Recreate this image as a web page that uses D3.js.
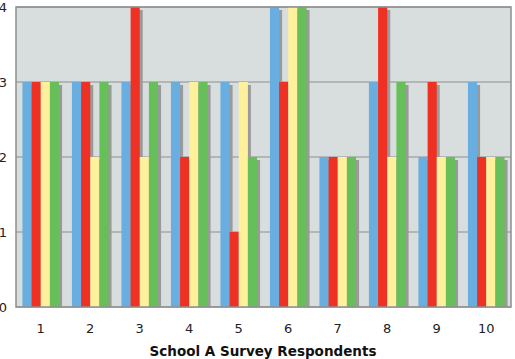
<!DOCTYPE html>
<html><head><meta charset="utf-8">
<script src="https://cdn.jsdelivr.net/npm/d3@7"></script>
<style>body{margin:0;background:#fff}svg{display:block}</style>
</head><body>
<script>
const categories = ["1","2","3","4","5","6","7","8","9","10"];
const seriesNames = ["Q1","Q2","Q3","Q4"];
const q1 = [3,3,3,3,3,4,2,3,2,3];
const q2 = [3,3,4,2,1,3,2,4,3,2];
const q3 = [3,2,2,3,3,4,2,2,2,2];
const q4 = [3,3,3,3,2,4,2,3,2,2];
const yTicks = [0,1,2,3,4];
const colors = ["#68aee0","#ef3123","#fff09b","#66bf58"];
const series = [q1,q2,q3,q4];

const W=515,H=359;
const m={l:16,r:4,t:7,b:52};
const svg=d3.select("body").append("svg").attr("width",W).attr("height",H);
const x0=d3.scaleBand().domain(categories).range([m.l,W-m.r]).paddingInner(0.26).paddingOuter(0.13);
const x1=d3.scaleBand().domain(seriesNames).range([0,x0.bandwidth()]);
const y=d3.scaleLinear().domain([0,4]).range([H-m.b,m.t]);

svg.append("rect").attr("x",m.l).attr("y",m.t).attr("width",W-m.r-m.l).attr("height",H-m.b-m.t).attr("fill","#d8dddd");
svg.selectAll(".grid").data(yTicks).join("line").attr("x1",m.l).attr("x2",W-m.r)
  .attr("y1",d=>y(d)).attr("y2",d=>y(d)).attr("stroke","#8f8f8f").attr("stroke-width",1);

const g=svg.append("g");
categories.forEach((c,i)=>{
  series.forEach((s,j)=>{
    g.append("rect").attr("x",x0(c)+x1(seriesNames[j])+3).attr("y",y(s[i])+3)
     .attr("width",x1.bandwidth()).attr("height",y(0)-y(s[i])-3).attr("fill","#9a9a9a");
  });
  series.forEach((s,j)=>{
    g.append("rect").attr("x",x0(c)+x1(seriesNames[j])).attr("y",y(s[i]))
     .attr("width",x1.bandwidth()).attr("height",y(0)-y(s[i])).attr("fill",colors[j]);
  });
});

svg.append("rect").attr("x",m.l).attr("y",m.t).attr("width",W-m.r-m.l).attr("height",H-m.b-m.t)
  .attr("fill","none").attr("stroke","#8f8f8f").attr("stroke-width",1.5);

const font="Verdana, 'DejaVu Sans', sans-serif";
svg.selectAll(".yl").data(yTicks).join("text").attr("x",7).attr("y",d=>y(d)).attr("dy","0.35em")
  .attr("text-anchor","end").attr("font-family",font).attr("font-size",13).attr("fill","#222").text(d=>d);
svg.selectAll(".xl").data(categories).join("text").attr("x",d=>x0(d)+x0.bandwidth()/2).attr("y",328).attr("dy","0.35em")
  .attr("text-anchor","middle").attr("font-family",font).attr("font-size",13).attr("fill","#222").text(d=>d);
svg.append("text").attr("x",263).attr("y",351).attr("dy","0.35em").attr("text-anchor","middle")
  .attr("font-family",font).attr("font-size",13.5).attr("font-weight","bold").attr("fill","#111").text("School A Survey Respondents");
</script>
</body></html>
